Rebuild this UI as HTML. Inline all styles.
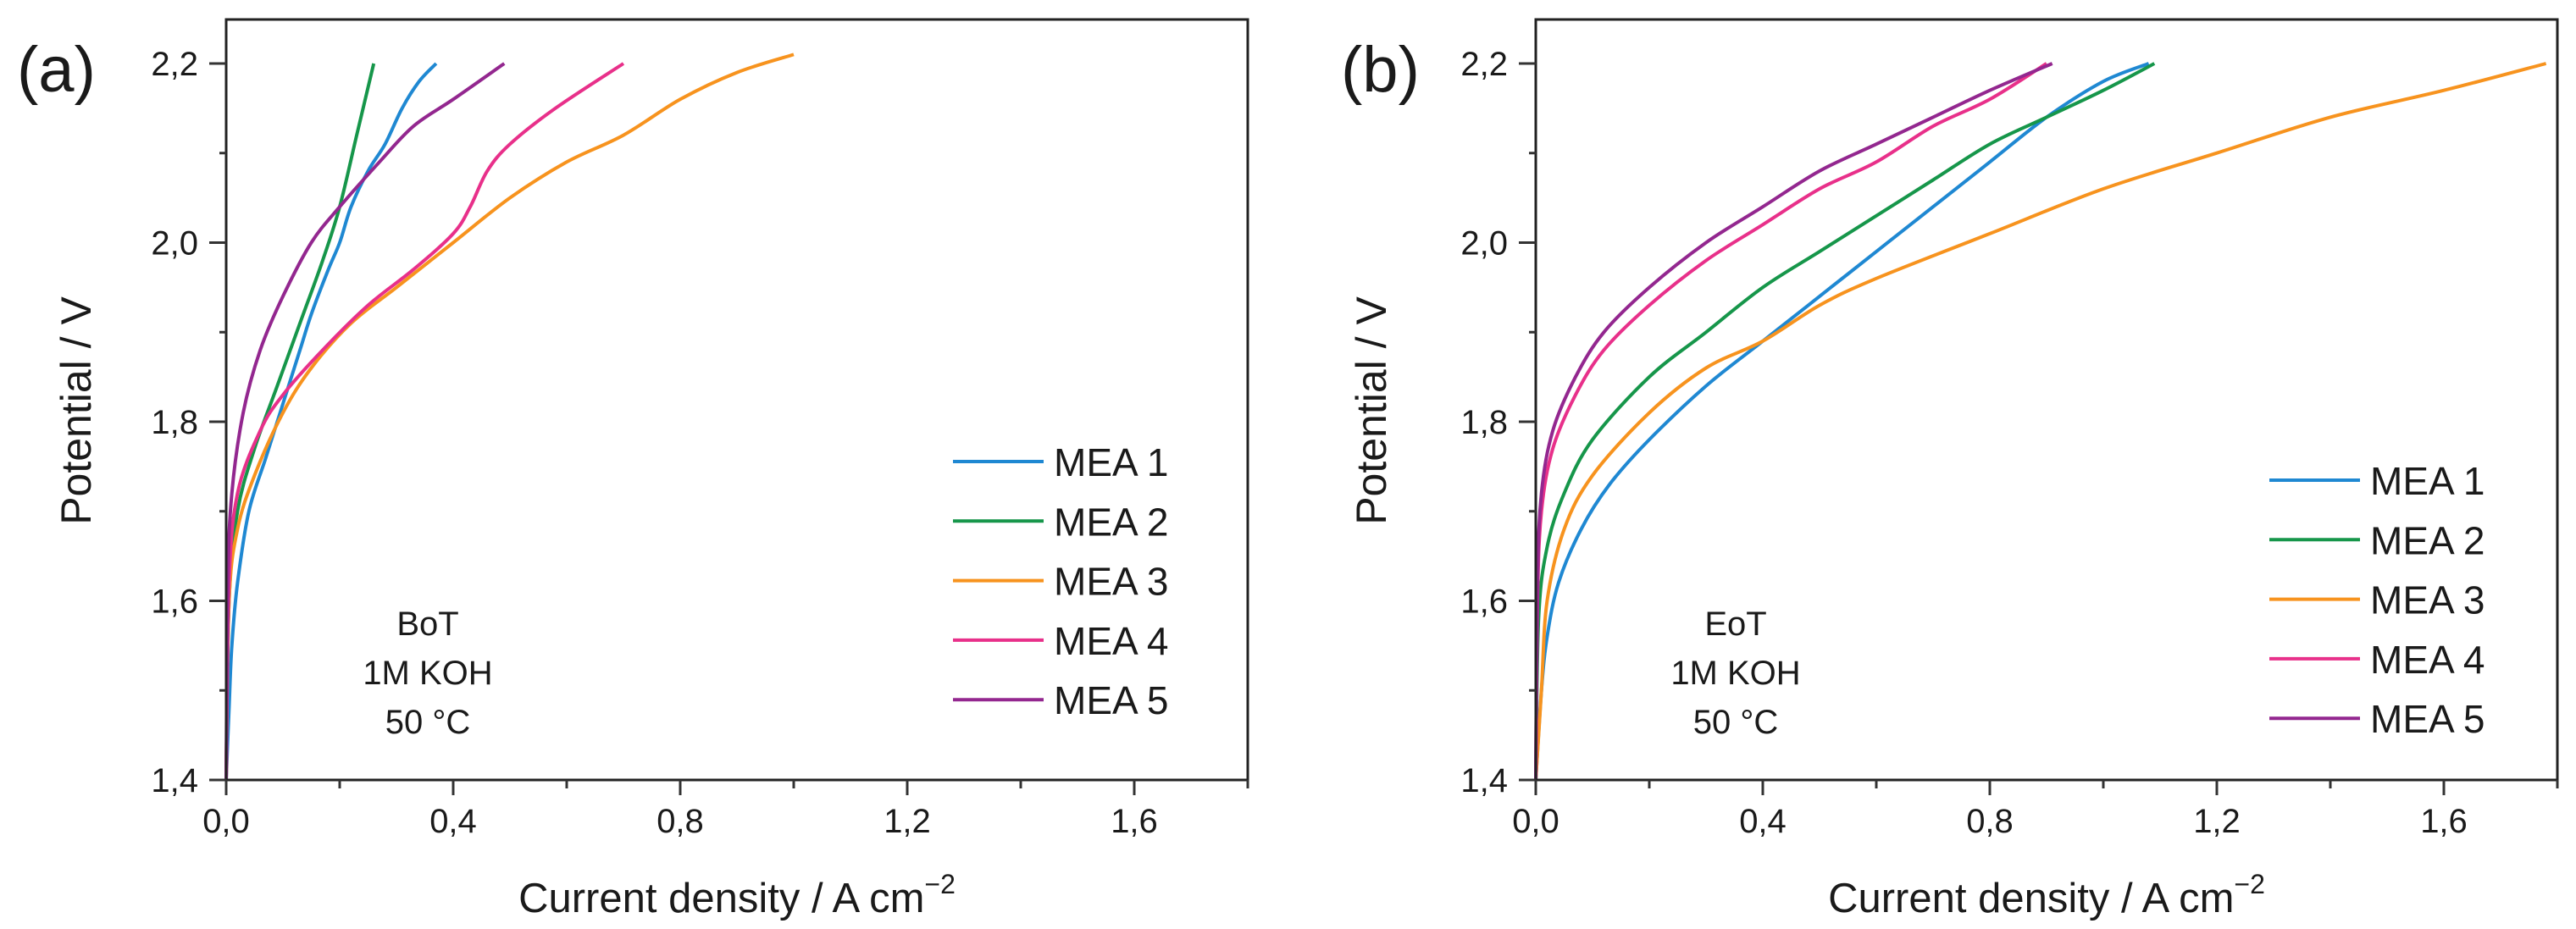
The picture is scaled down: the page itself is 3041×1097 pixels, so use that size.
<!DOCTYPE html>
<html><head><meta charset="utf-8"><style>
html,body{margin:0;padding:0;background:#fff}
svg{display:block}
text{font-family:"Liberation Sans",Arial,sans-serif;fill:#1a1a1a}
</style></head><body>
<svg id="fig" width="3041" height="1097" viewBox="0 0 3041 1097" xmlns="http://www.w3.org/2000/svg"></svg>
<script>
const seriesNames = ["MEA 1","MEA 2","MEA 3","MEA 4","MEA 5"];
const seriesColors = ["#1f88d2","#16964a","#f7931e","#e8308a","#93278f"];
const xTicks = [0,0.4,0.8,1.2,1.6];
const xTickLabels = ["0,0","0,4","0,8","1,2","1,6"];
const yTicks = [1.4,1.6,1.8,2.0,2.2];
const yTickLabels = ["1,4","1,6","1,8","2,0","2,2"];
// panel (a) BoT
const aMEA1x=[0,0.005,0.01,0.02,0.04,0.07,0.1,0.13,0.15,0.18,0.2,0.22,0.25,0.28,0.31,0.34,0.37];
const aMEA1y=[1.4,1.48,1.55,1.62,1.70,1.76,1.82,1.88,1.92,1.97,2.0,2.04,2.08,2.11,2.15,2.18,2.2];
const aMEA2x=[0,0.005,0.02,0.05,0.09,0.13,0.17,0.2,0.23,0.26];
const aMEA2y=[1.4,1.6,1.7,1.77,1.84,1.91,1.98,2.04,2.12,2.2];
const aMEA3x=[0,0.005,0.02,0.05,0.1,0.15,0.22,0.3,0.4,0.5,0.6,0.7,0.8,0.9,1.0];
const aMEA3y=[1.4,1.6,1.68,1.74,1.81,1.86,1.91,1.95,2.0,2.05,2.09,2.12,2.16,2.19,2.21];
const aMEA4x=[0,0.005,0.02,0.06,0.1,0.17,0.25,0.33,0.4,0.43,0.46,0.5,0.58,0.7];
const aMEA4y=[1.4,1.62,1.72,1.79,1.83,1.88,1.93,1.97,2.01,2.04,2.08,2.11,2.15,2.2];
const aMEA5x=[0,0.003,0.01,0.03,0.06,0.1,0.15,0.2,0.27,0.33,0.4,0.49];
const aMEA5y=[1.4,1.62,1.72,1.81,1.88,1.94,2.0,2.04,2.09,2.13,2.16,2.2];
// panel (b) EoT
const bMEA1x=[0,0.01,0.02,0.04,0.08,0.13,0.2,0.3,0.4,0.5,0.6,0.7,0.8,0.9,1.0,1.08];
const bMEA1y=[1.4,1.5,1.56,1.62,1.68,1.73,1.78,1.84,1.89,1.94,1.99,2.04,2.09,2.14,2.18,2.2];
const bMEA2x=[0,0.005,0.02,0.05,0.1,0.2,0.3,0.4,0.5,0.6,0.7,0.8,0.9,1.0,1.09];
const bMEA2y=[1.4,1.58,1.66,1.72,1.78,1.85,1.9,1.95,1.99,2.03,2.07,2.11,2.14,2.17,2.2];
const bMEA3x=[0,0.01,0.02,0.05,0.1,0.2,0.3,0.4,0.5,0.6,0.8,1.0,1.2,1.4,1.6,1.78];
const bMEA3y=[1.4,1.5,1.6,1.68,1.74,1.81,1.86,1.89,1.93,1.96,2.01,2.06,2.1,2.14,2.17,2.2];
const bMEA4x=[0,0.003,0.01,0.03,0.07,0.12,0.2,0.3,0.4,0.5,0.6,0.7,0.8,0.9];
const bMEA4y=[1.4,1.6,1.7,1.77,1.83,1.88,1.93,1.98,2.02,2.06,2.09,2.13,2.16,2.2];
const bMEA5x=[0,0.003,0.01,0.03,0.07,0.12,0.2,0.3,0.4,0.5,0.6,0.7,0.8,0.91];
const bMEA5y=[1.4,1.62,1.72,1.79,1.85,1.9,1.95,2.0,2.04,2.08,2.11,2.14,2.17,2.2];

const NS="http://www.w3.org/2000/svg";
const svg=document.getElementById('fig');
function mk(tag,attrs,parent){const e=document.createElementNS(NS,tag);for(const k in attrs)e.setAttribute(k,attrs[k]);(parent||svg).appendChild(e);return e;}
function smoothPath(P){
  let d='M'+P[0][0].toFixed(1)+' '+P[0][1].toFixed(1);
  for(let i=0;i<P.length-1;i++){
    const p0=P[Math.max(0,i-1)],p1=P[i],p2=P[i+1],p3=P[Math.min(P.length-1,i+2)];
    const c1=[p1[0]+(p2[0]-p0[0])/6,p1[1]+(p2[1]-p0[1])/6];
    const c2=[p2[0]-(p3[0]-p1[0])/6,p2[1]-(p3[1]-p1[1])/6];
    d+=' C'+c1[0].toFixed(1)+' '+c1[1].toFixed(1)+' '+c2[0].toFixed(1)+' '+c2[1].toFixed(1)+' '+p2[0].toFixed(1)+' '+p2[1].toFixed(1);
  }
  return d;
}

function panel(cfg){
  const g=mk('g',{});
  
  
  const x0=cfg.x0, yb=921, pxX=670, pxY=1057.5, top=23, right=x0+1206;
  const sx=v=>x0+v*pxX, sy=v=>yb-(v-1.4)*pxY;
  cfg.series.forEach((s,i)=>{
    const pts=s[0].map((v,j)=>[sx(v),sy(s[1][j])]);
    const p=mk('path',{d:smoothPath(pts),fill:'none',stroke:seriesColors[i],'stroke-width':4,'stroke-linejoin':'round'},g);
    
    
  });
  const fr=mk('rect',{x:x0,y:top,width:right-x0,height:yb-top,fill:'none',stroke:'#222','stroke-width':3},g);
  
  
  for(let k=0;k<=8;k++){const v=1.4+k*0.1;const y=sy(v);const major=k%2===0;
    mk('line',{x1:x0-(major?20:8),x2:x0,y1:y,y2:y,stroke:'#333','stroke-width':3},g);}
  yTicks.forEach((v,i)=>{const t=mk('text',{x:x0-33,y:sy(v)+14,'font-size':40,'text-anchor':'end'},g);t.textContent=yTickLabels[i];
    
    });
  for(let k=0;k<=9;k++){const v=k*0.2;const x=sx(v);const major=k%2===0;
    mk('line',{x1:x,x2:x,y1:yb,y2:yb+(major?18:10),stroke:'#333','stroke-width':3},g);}
  xTicks.forEach((v,i)=>{const t=mk('text',{x:sx(v),y:983,'font-size':40,'text-anchor':'middle'},g);t.textContent=xTickLabels[i];
    
    });
  const xt=mk('text',{x:cfg.xTitleX,y:1077,'font-size':49,'text-anchor':'middle'},g);
  xt.innerHTML='Current density / A cm<tspan dy="-22" font-size="32">−2</tspan>';
  
  
  const yt=mk('text',{x:0,y:0,'font-size':50,'text-anchor':'middle',transform:'translate('+cfg.yTitleX+',485) rotate(-90)'},g);
  yt.textContent='Potential / V';
  
  
  const pl=mk('text',{x:cfg.labelX,y:108,'font-size':76},g);pl.textContent=cfg.label;
  
  
  cfg.note.forEach((s,i)=>{const t=mk('text',{x:cfg.noteX,y:750+i*58,'font-size':40,'text-anchor':'middle'},g);t.textContent=s;
    
    });
  seriesNames.forEach((n,i)=>{const y=cfg.legY+i*70.3;
    const lg=mk('g',{},g);
    
    
    mk('line',{x1:cfg.legX,x2:cfg.legX+107,y1:y,y2:y,stroke:seriesColors[i],'stroke-width':4},lg);
    const t=mk('text',{x:cfg.legX+119,y:y+17,'font-size':46},lg);t.textContent=n;});
}
panel({id:'panel-a',x0:267,label:'(a)',labelX:20,xTitleX:870,yTitleX:107,noteX:505,note:['BoT','1M KOH','50 °C'],legX:1125,legY:545,
  series:[[aMEA1x,aMEA1y],[aMEA2x,aMEA2y],[aMEA3x,aMEA3y],[aMEA4x,aMEA4y],[aMEA5x,aMEA5y]]});
panel({id:'panel-b',x0:1813,label:'(b)',labelX:1583,xTitleX:2416,yTitleX:1636,noteX:2049,note:['EoT','1M KOH','50 °C'],legX:2679,legY:567,
  series:[[bMEA1x,bMEA1y],[bMEA2x,bMEA2y],[bMEA3x,bMEA3y],[bMEA4x,bMEA4y],[bMEA5x,bMEA5y]]});
</script>
</body></html>
